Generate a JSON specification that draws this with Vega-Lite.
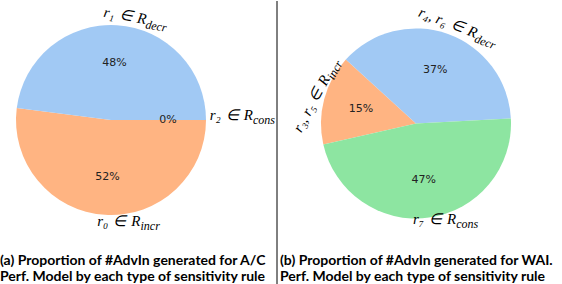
{
  "$schema": "https://vega.github.io/schema/vega-lite/v6.json",
  "padding": 0,
  "spacing": 0,
  "bounds": "flush",
  "config": {"view": {"stroke": null}},
  "datasets": {
    "pieA": [
      {"rule": "incr", "value": 52, "pct": "52%", "lab": "r₀\u2004∈\u2004R", "sub": "incr"},
      {"rule": "decr", "value": 48, "pct": "48%", "lab": "r₁\u2004∈\u2004R", "sub": "decr"},
      {"rule": "cons", "value": 0, "pct": "0%", "lab": "r₂\u2004∈\u2004R", "sub": "cons"}
    ],
    "pieB": [
      {"rule": "incr", "value": 15.3, "pct": "15%", "lab": "r₃, r₅\u2004∈\u2004R", "sub": "incr"},
      {"rule": "decr", "value": 37.4, "pct": "37%", "lab": "r₄, r₆\u2004∈\u2004R", "sub": "decr"},
      {"rule": "cons", "value": 47.3, "pct": "47%", "lab": "r₇\u2004∈\u2004R", "sub": "cons"}
    ]
  },
  "hconcat": [
    {
      "width": 222,
      "height": 238,
      "data": {"name": "pieA"},
      "title": {
        "text": ["(a) Proportion of #AdvIn generated for A/C", "Perf. Model by each type of sensitivity rule"],
        "orient": "bottom", "anchor": "start", "frame": "group", "font": "Lato", "fontSize": 14, "fontWeight": "bold",
        "color": "black", "lineHeight": 16, "offset": 15
      },
      "encoding": {
        "theta": {"field": "value", "type": "quantitative", "stack": true, "scale": {"domain": [0, 100], "range": [1.5708, 7.8540]}},
        "order": {"field": "rule", "type": "nominal", "sort": "descending"}
      },
      "layer": [
        {"mark": {"type": "arc", "radius": 95, "strokeWidth": 0},
         "encoding": {"color": {"field": "rule", "type": "nominal", "legend": null,
           "scale": {"domain": ["decr", "incr", "cons"], "range": ["#a1c9f4", "#ffb482", "#8de5a1"]}}}},
        {"mark": {"type": "text", "radius": 57, "font": "DejaVu Sans", "fontSize": 11, "fill": "#222222", "align": "center", "baseline": "middle"},
         "encoding": {"detail": {"field": "rule"}, "text": {"field": "pct", "type": "nominal"}}},
        {"mark": {"type": "text", "radius": 104, "angle": 10, "dx": 29, "dy": 3, "align": "right", "baseline": "alphabetic", "font": "Liberation Serif", "fontStyle": "italic", "fontSize": 15, "fill": "black"},
         "encoding": {"detail": {"field": "rule"}, "text": {"field": "lab", "type": "nominal", "condition": {"test": "datum.rule !== 'decr'", "value": ""}}}},
        {"mark": {"type": "text", "radius": 104, "angle": 10, "dx": 29, "dy": 7, "align": "left", "baseline": "alphabetic", "font": "Liberation Serif", "fontStyle": "italic", "fontSize": 12, "fill": "black"},
         "encoding": {"detail": {"field": "rule"}, "text": {"field": "sub", "type": "nominal", "condition": {"test": "datum.rule !== 'decr'", "value": ""}}}},
        {"mark": {"type": "text", "radius": 104, "angle": 0, "dx": 38, "dy": 0, "align": "right", "baseline": "alphabetic", "font": "Liberation Serif", "fontStyle": "italic", "fontSize": 15, "fill": "black"},
         "encoding": {"detail": {"field": "rule"}, "text": {"field": "lab", "type": "nominal", "condition": {"test": "datum.rule !== 'cons'", "value": ""}}}},
        {"mark": {"type": "text", "radius": 104, "angle": 0, "dx": 38, "dy": 4, "align": "left", "baseline": "alphabetic", "font": "Liberation Serif", "fontStyle": "italic", "fontSize": 12, "fill": "black"},
         "encoding": {"detail": {"field": "rule"}, "text": {"field": "sub", "type": "nominal", "condition": {"test": "datum.rule !== 'cons'", "value": ""}}}},
        {"mark": {"type": "text", "radius": 104, "angle": 0, "dx": 36, "dy": 2, "align": "right", "baseline": "alphabetic", "font": "Liberation Serif", "fontStyle": "italic", "fontSize": 15, "fill": "black"},
         "encoding": {"detail": {"field": "rule"}, "text": {"field": "lab", "type": "nominal", "condition": {"test": "datum.rule !== 'incr'", "value": ""}}}},
        {"mark": {"type": "text", "radius": 104, "angle": 0, "dx": 36, "dy": 6, "align": "left", "baseline": "alphabetic", "font": "Liberation Serif", "fontStyle": "italic", "fontSize": 12, "fill": "black"},
         "encoding": {"detail": {"field": "rule"}, "text": {"field": "sub", "type": "nominal", "condition": {"test": "datum.rule !== 'incr'", "value": ""}}}}
      ]
    },
    {
      "width": 110,
      "height": 284,
      "data": {"values": [{}]},
      "mark": {"type": "rule", "color": "black", "strokeWidth": 1},
      "encoding": {
        "y": {"datum": 0, "type": "quantitative", "scale": {"domain": [0, 1]}, "axis": null},
        "y2": {"datum": 1}
      }
    },
    {
      "width": 168,
      "height": 245,
      "data": {"name": "pieB"},
      "title": {
        "text": ["(b) Proportion of #AdvIn generated for WAI.", "Perf. Model by each type of sensitivity rule"],
        "orient": "bottom", "anchor": "start", "frame": "group", "font": "Lato", "fontSize": 14, "fontWeight": "bold",
        "color": "black", "lineHeight": 16, "offset": 8, "dx": -52
      },
      "encoding": {
        "theta": {"field": "value", "type": "quantitative", "stack": true, "scale": {"domain": [0, 100], "range": [4.4907, 10.7739]}},
        "order": {"field": "rule", "type": "nominal", "sort": "descending"}
      },
      "layer": [
        {"mark": {"type": "arc", "radius": 95, "strokeWidth": 0},
         "encoding": {"color": {"field": "rule", "type": "nominal", "legend": null,
           "scale": {"domain": ["decr", "incr", "cons"], "range": ["#a1c9f4", "#ffb482", "#8de5a1"]}}}},
        {"mark": {"type": "text", "radius": 57, "font": "DejaVu Sans", "fontSize": 11, "fill": "#222222", "align": "center", "baseline": "middle"},
         "encoding": {"detail": {"field": "rule"}, "text": {"field": "pct", "type": "nominal"}}},
        {"mark": {"type": "text", "radius": 104, "angle": 21, "dx": 27, "dy": 3, "align": "right", "baseline": "alphabetic", "font": "Liberation Serif", "fontStyle": "italic", "fontSize": 15, "fill": "black"},
         "encoding": {"detail": {"field": "rule"}, "text": {"field": "lab", "type": "nominal", "condition": {"test": "datum.rule !== 'decr'", "value": ""}}}},
        {"mark": {"type": "text", "radius": 104, "angle": 21, "dx": 27, "dy": 7, "align": "left", "baseline": "alphabetic", "font": "Liberation Serif", "fontStyle": "italic", "fontSize": 12, "fill": "black"},
         "encoding": {"detail": {"field": "rule"}, "text": {"field": "sub", "type": "nominal", "condition": {"test": "datum.rule !== 'decr'", "value": ""}}}},
        {"mark": {"type": "text", "radius": 104, "angle": -62, "dx": 23, "dy": 4.5, "align": "right", "baseline": "alphabetic", "font": "Liberation Serif", "fontStyle": "italic", "fontSize": 15, "fill": "black"},
         "encoding": {"detail": {"field": "rule"}, "text": {"field": "lab", "type": "nominal", "condition": {"test": "datum.rule !== 'incr'", "value": ""}}}},
        {"mark": {"type": "text", "radius": 104, "angle": -62, "dx": 23, "dy": 8.5, "align": "left", "baseline": "alphabetic", "font": "Liberation Serif", "fontStyle": "italic", "fontSize": 12, "fill": "black"},
         "encoding": {"detail": {"field": "rule"}, "text": {"field": "sub", "type": "nominal", "condition": {"test": "datum.rule !== 'incr'", "value": ""}}}},
        {"mark": {"type": "text", "radius": 104, "angle": 0, "dx": 26, "dy": -2.5, "align": "right", "baseline": "alphabetic", "font": "Liberation Serif", "fontStyle": "italic", "fontSize": 15, "fill": "black"},
         "encoding": {"detail": {"field": "rule"}, "text": {"field": "lab", "type": "nominal", "condition": {"test": "datum.rule !== 'cons'", "value": ""}}}},
        {"mark": {"type": "text", "radius": 104, "angle": 0, "dx": 26, "dy": 1.5, "align": "left", "baseline": "alphabetic", "font": "Liberation Serif", "fontStyle": "italic", "fontSize": 12, "fill": "black"},
         "encoding": {"detail": {"field": "rule"}, "text": {"field": "sub", "type": "nominal", "condition": {"test": "datum.rule !== 'cons'", "value": ""}}}}
      ]
    }
  ]
}
